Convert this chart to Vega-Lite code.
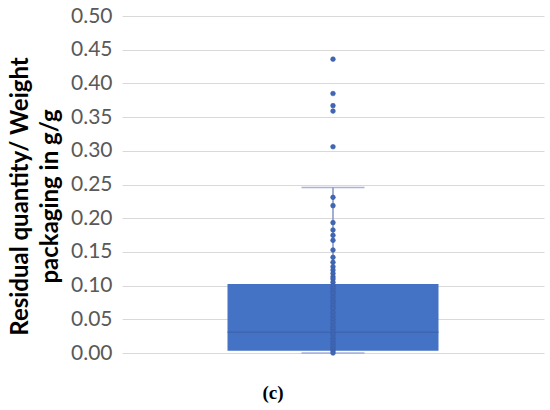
{
  "$schema": "https://vega.github.io/schema/vega-lite/v6.json",
  "width": 422,
  "height": 337,
  "autosize": {"type": "none"},
  "padding": {"left": 122, "top": 16, "right": 6, "bottom": 57},
  "background": "white",
  "config": {
    "view": {"stroke": null},
    "axisY": {
      "values": [0, 0.05, 0.1, 0.15, 0.2, 0.25, 0.3, 0.35, 0.4, 0.45, 0.5],
      "format": ".2f",
      "grid": true, "gridColor": "#D9D9D9", "gridWidth": 1,
      "domain": false, "ticks": false,
      "labelFont": "Lato", "labelFontSize": 21, "labelColor": "#595959", "labelPadding": 10,
      "titleFont": "Lato", "titleFontSize": 24, "titleFontWeight": "bold", "titleColor": "#000000",
      "titleLineHeight": 30, "titleBaseline": "top", "titleX": -114, "titleY": 180, "titleAngle": -90
    }
  },
  "title": {"text": "(c)", "orient": "bottom", "anchor": "middle", "dx": -60, "offset": 21, "font": "Liberation Serif", "fontSize": 19, "fontWeight": "bold", "color": "#000000"},
  "datasets": {
    "stats": [{"group": "c", "min": 0.0, "q1": 0.0035, "median": 0.0307, "q3": 0.1025, "max": 0.2455}],
    "points": [
      {"group": "c", "value": 0.436},
      {"group": "c", "value": 0.385},
      {"group": "c", "value": 0.367},
      {"group": "c", "value": 0.359},
      {"group": "c", "value": 0.306},
      {"group": "c", "value": 0.231},
      {"group": "c", "value": 0.2186},
      {"group": "c", "value": 0.1934},
      {"group": "c", "value": 0.1825},
      {"group": "c", "value": 0.1746},
      {"group": "c", "value": 0.1672},
      {"group": "c", "value": 0.1528},
      {"group": "c", "value": 0.142},
      {"group": "c", "value": 0.1345},
      {"group": "c", "value": 0.128},
      {"group": "c", "value": 0.123},
      {"group": "c", "value": 0.118},
      {"group": "c", "value": 0.113},
      {"group": "c", "value": 0.1098},
      {"group": "c", "value": 0.105},
      {"group": "c", "value": 0.1},
      {"group": "c", "value": 0.096},
      {"group": "c", "value": 0.092},
      {"group": "c", "value": 0.088},
      {"group": "c", "value": 0.083},
      {"group": "c", "value": 0.078},
      {"group": "c", "value": 0.074},
      {"group": "c", "value": 0.07},
      {"group": "c", "value": 0.066},
      {"group": "c", "value": 0.06},
      {"group": "c", "value": 0.055},
      {"group": "c", "value": 0.05},
      {"group": "c", "value": 0.045},
      {"group": "c", "value": 0.04},
      {"group": "c", "value": 0.036},
      {"group": "c", "value": 0.031},
      {"group": "c", "value": 0.027},
      {"group": "c", "value": 0.022},
      {"group": "c", "value": 0.018},
      {"group": "c", "value": 0.014},
      {"group": "c", "value": 0.01},
      {"group": "c", "value": 0.006},
      {"group": "c", "value": 0.003},
      {"group": "c", "value": 0.0}
    ]
  },
  "layer": [
    {
      "data": {"name": "stats"},
      "mark": {"type": "rule", "color": "#8194C6", "strokeWidth": 1.5},
      "encoding": {
        "x": {"field": "group", "type": "nominal", "axis": null, "scale": {"paddingInner": 0, "paddingOuter": 0}},
        "y": {
          "field": "min", "type": "quantitative",
          "scale": {"domain": [0, 0.5], "nice": false, "zero": true},
          "title": ["Residual quantity/ Weight", "packaging in g/g"]
        },
        "y2": {"field": "max"}
      }
    },
    {
      "data": {"name": "stats"},
      "mark": {"type": "bar", "color": "#4472C4", "width": {"band": 0.5}},
      "encoding": {
        "x": {"field": "group", "type": "nominal"},
        "y": {"field": "q1", "type": "quantitative"},
        "y2": {"field": "q3"}
      }
    },
    {
      "data": {"name": "stats"},
      "mark": {"type": "tick", "color": "#3A60A8", "size": 211, "thickness": 1.5},
      "encoding": {
        "x": {"field": "group", "type": "nominal"},
        "y": {"field": "median", "type": "quantitative"}
      }
    },
    {
      "data": {"name": "stats"},
      "mark": {"type": "tick", "color": "#8194C6", "size": 63, "thickness": 1.5},
      "encoding": {
        "x": {"field": "group", "type": "nominal"},
        "y": {"field": "max", "type": "quantitative"}
      }
    },
    {
      "data": {"name": "stats"},
      "mark": {"type": "tick", "color": "#8194C6", "size": 63, "thickness": 1.5},
      "encoding": {
        "x": {"field": "group", "type": "nominal"},
        "y": {"field": "min", "type": "quantitative"}
      }
    },
    {
      "data": {"name": "points"},
      "mark": {"type": "circle", "size": 22, "color": "#3F67B5", "opacity": 1, "stroke": "#3A5DA5", "strokeWidth": 0.6},
      "encoding": {
        "x": {"field": "group", "type": "nominal"},
        "y": {"field": "value", "type": "quantitative"}
      }
    }
  ]
}
